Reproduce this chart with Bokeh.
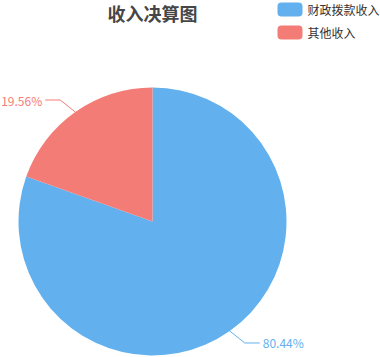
import numpy as np
from bokeh.plotting import figure
from bokeh.models import Range1d, ColumnDataSource
from bokeh.core.properties import value
from bokeh.embed import file_html
from bokeh.resources import INLINE

title = "收入决算图"
categories = ["财政拨款收入", "其他收入"]
values = [80.44, 19.56]
colors = ["#62B1EE", "#F47C77"]

W, H = 380, 357
p = figure(width=W, height=H, x_range=Range1d(0, W), y_range=Range1d(0, H),
           output_backend="svg", toolbar_location=None, min_border=0)
p.axis.visible = False
p.grid.visible = False
p.outline_line_color = None
p.background_fill_color = "white"
p.border_fill_color = "white"

cx, cy, r = 152, H - 221, 134
fracs = np.array(values) / sum(values)
# clockwise from top
ends = np.pi / 2 - 2 * np.pi * np.concatenate([[0], np.cumsum(fracs)[:-1]])
starts = ends - 2 * np.pi * fracs
src = ColumnDataSource(dict(start=starts, end=ends, color=colors))
p.wedge(x=cx, y=cy, radius=r, start_angle="start", end_angle="end",
        fill_color="color", line_color="white", line_width=0, source=src)

font = value("Noto Sans CJK SC")
for i, (v, c) in enumerate(zip(values, colors)):
    mid = (starts[i] + ends[i]) / 2
    x0, y0 = cx + r * np.cos(mid), cy + r * np.sin(mid)
    sx = 1 if np.cos(mid) >= 0 else -1
    sy = 1 if np.sin(mid) >= 0 else -1
    x1, y1 = x0 + sx * 15, y0 + sy * 12
    x2 = x1 + sx * 15
    p.line([x0, x1, x2], [y0, y1, y1], line_color=c, line_width=1)
    p.text(x=[x2 + sx * 3], y=[y1], text=[f"{v:.2f}%"], text_color=c,
           text_font=font, text_font_size="12px", text_baseline="middle",
           text_align="left" if sx > 0 else "right")

p.text(x=[152], y=[H - 12], text=[title], text_font=font, text_font_size="18px",
       text_font_style="bold", text_color="#464646", text_align="center",
       text_baseline="middle")

for i, (cat, c) in enumerate(zip(categories, colors)):
    ly = H - 9 - i * 23
    p.rect(x=[289.5], y=[ly], width=25, height=14, fill_color=c, line_color=None,
           border_radius=4)
    p.text(x=[307], y=[ly], text=[cat], text_font=font, text_font_size="12px",
           text_color="#333333", text_baseline="middle", text_align="left")

open("out.html", "w").write(file_html(p, INLINE))
